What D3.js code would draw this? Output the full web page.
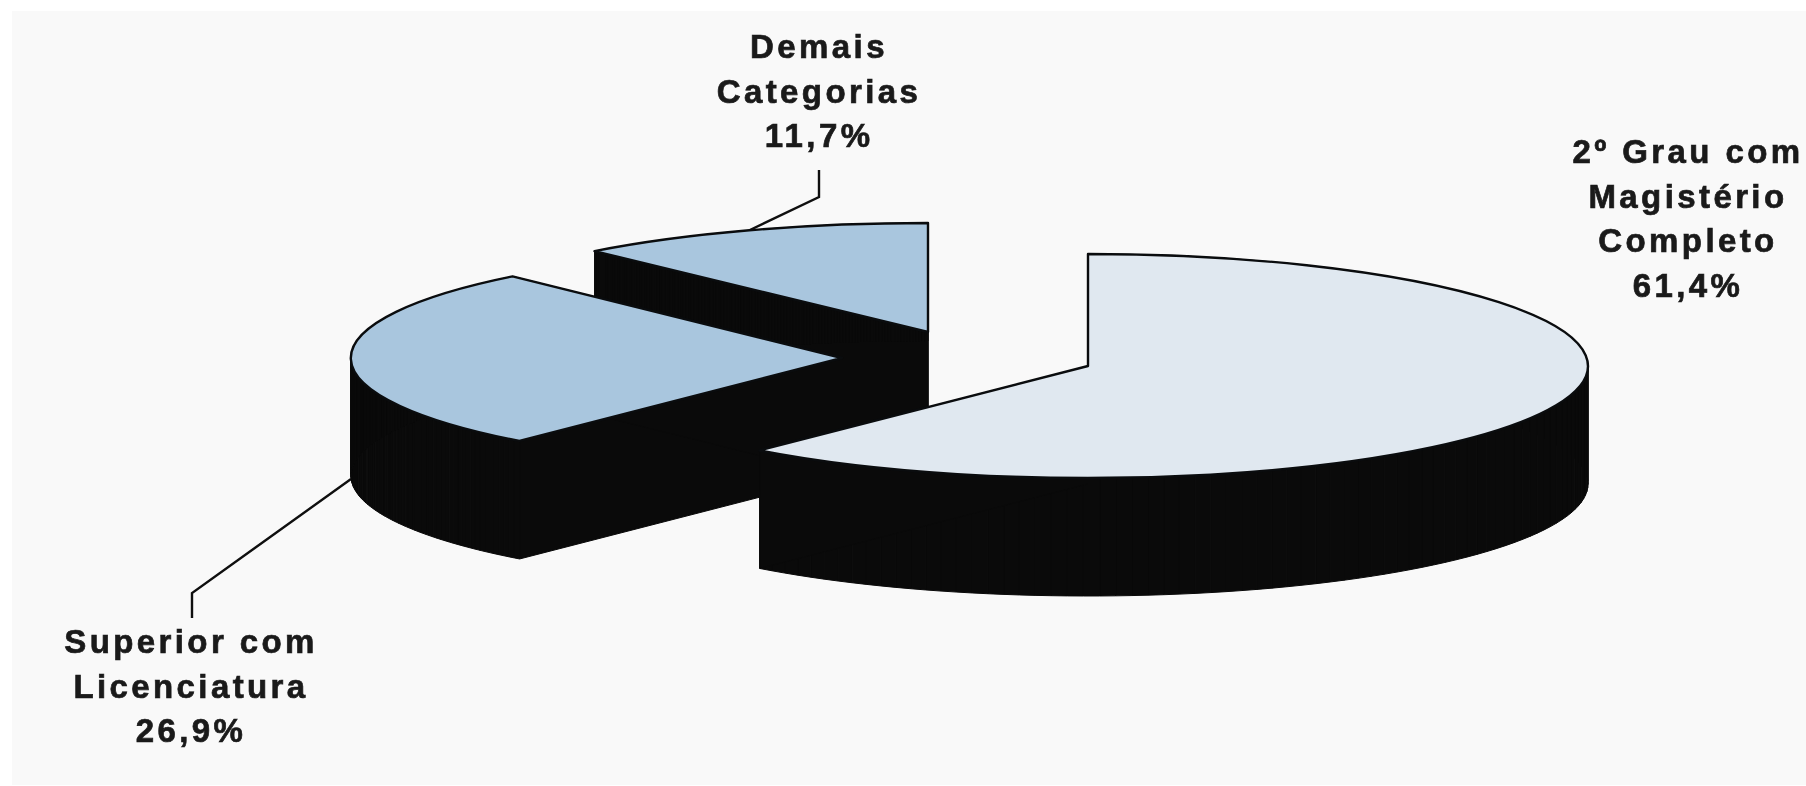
<!DOCTYPE html>
<html><head><meta charset="utf-8">
<script src="https://cdn.jsdelivr.net/npm/d3@7"></script>
<style>
html,body{margin:0;padding:0;background:#fff;overflow:hidden}
svg{display:block}
</style></head><body>
<svg id="c" width="1806" height="786"></svg>
<script>
// Data
const categories = ["2º Grau com Magistério Completo", "Superior com Licenciatura", "Demais Categorias"];
const values = [61.4, 26.9, 11.7];
const valueLabels = ["61,4%", "26,9%", "11,7%"];
const labelLines = [["2º Grau com", "Magistério", "Completo"], ["Superior com", "Licenciatura"], ["Demais", "Categorias"]];

// Layout and style, per slice
const W = 1806, H = 786, DEPTH = 118;
const geom = [
  {cx:1088, cy:366, rx:500, ry:112, top:"#e0e8f0", label:[1686,163], leader:null},
  {cx:842,  cy:358, rx:491, ry:110, top:"#a9c6de", label:[189,653],  leader:{elbow:[192,593], end:[192,618], drop:DEPTH+2}},
  {cx:928,  cy:332, rx:497, ry:109, top:"#a9c6de", label:[817,58],   leader:{elbow:[819,197], end:[819,170], drop:0}}
];
const drawOrder = [2,1,0];

const svg = d3.select("#c");
svg.append("rect").attr("width",W).attr("height",H).attr("fill","#fff");
svg.append("rect").attr("x",12).attr("y",11).attr("width",W-12).attr("height",H-12).attr("fill","#f9f9f9");

const root = svg.append("g").style("filter","blur(0.7px)");

const arcs = d3.pie().sort(null)(values);
const unitArc = d3.arc().innerRadius(0).outerRadius(1);
const line = d3.line();

function pt(g, a){ return [g.cx + g.rx*Math.sin(a), g.cy - g.ry*Math.cos(a)]; }

// leader lines go under the slices
arcs.forEach((d,i)=>{
  const g = geom[i]; if(!g.leader) return;
  const mid = (d.startAngle+d.endAngle)/2, p = pt(g,mid);
  root.append("path")
    .attr("d", line([[p[0],p[1]+g.leader.drop], g.leader.elbow, g.leader.end]))
    .attr("fill","none").attr("stroke","#0f0f0f").attr("stroke-width",2.4);
});

drawOrder.forEach(i=>{
  const d = arcs[i], g = geom[i];
  const angles = d3.range(0,121).map(k=>d.startAngle+(d.endAngle-d.startAngle)*k/120);
  const outline = [[g.cx,g.cy], ...angles.map(a=>pt(g,a)), [g.cx,g.cy]];
  const side = root.append("g");
  d3.pairs(outline).forEach(([a,b])=>{
    side.append("path")
      .attr("d", line([a,b,[b[0],b[1]+DEPTH],[a[0],a[1]+DEPTH]])+"Z")
      .attr("fill","#0a0a0a").attr("stroke","#0a0a0a").attr("stroke-width",1);
  });
  root.append("path")
    .attr("transform",`translate(${g.cx},${g.cy}) scale(${g.rx},${g.ry})`)
    .attr("d", unitArc(d))
    .attr("fill",g.top).attr("stroke","#0a0c0e").attr("stroke-width",2.4)
    .attr("stroke-linejoin","round")
    .style("vector-effect","non-scaling-stroke");
});

// labels
labelLines.forEach((lines,i)=>{
  const g = geom[i];
  const t = root.append("text")
    .attr("font-family","'Liberation Sans',Arial,sans-serif").attr("font-weight",700)
    .attr("font-size",33).attr("letter-spacing",3.4).attr("fill","#1a1a1a")
    .attr("stroke","#1a1a1a").attr("stroke-width",0.7)
    .attr("text-anchor","middle");
  [...lines, valueLabels[i]].forEach((s,k)=>{
    t.append("tspan").attr("x",g.label[0]+2).attr("y",g.label[1]+k*44.5).text(s);
  });
});
</script>
</body></html>
